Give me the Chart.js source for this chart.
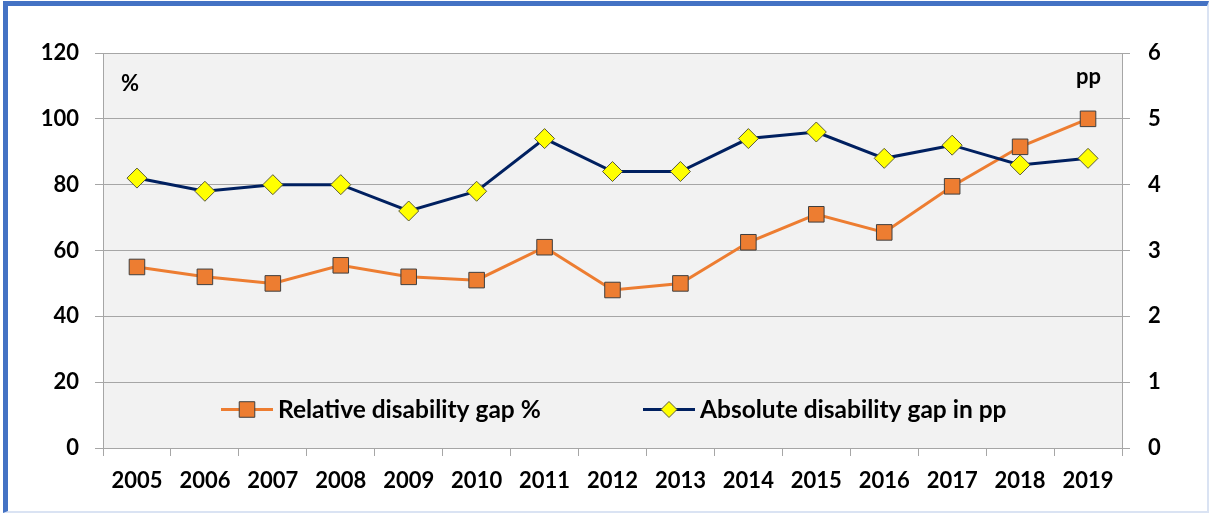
<!DOCTYPE html>
<html><head><meta charset="utf-8">
<script src="https://cdn.jsdelivr.net/npm/chart.js@4/dist/chart.umd.min.js"></script>
<style>
html,body{margin:0;padding:0;background:#fff;}
#wrap{position:relative;width:1210px;height:514px;overflow:hidden;background:#fff;}
#frame{position:absolute;left:3px;top:1px;width:1206px;height:512px;border-left:5px solid #4472c4;border-top:5px solid #4472c4;border-right:2px solid #dae3f3;border-bottom:2px solid #dae3f3;box-sizing:border-box;pointer-events:none;}
canvas{position:absolute;left:0;top:0;}
</style></head>
<body>
<div id="wrap"><canvas id="c" width="1210" height="514"></canvas><div id="frame"></div></div>
<script>
const years = ['2005','2006','2007','2008','2009','2010','2011','2012','2013','2014','2015','2016','2017','2018','2019'];
const relativeGap = [55, 52, 50, 55.5, 52, 51, 61, 48, 50, 62.5, 71, 65.5, 79.5, 91.5, 100];
const absoluteGap = [4.1, 3.9, 4.0, 4.0, 3.6, 3.9, 4.7, 4.2, 4.2, 4.7, 4.8, 4.4, 4.6, 4.3, 4.4];
const seriesNames = ['Relative disability gap %', 'Absolute disability gap in pp'];
const leftUnit = '%';
const rightUnit = 'pp';

const FONT = 'Lato, "Open Sans", sans-serif';
const ORANGE = '#ed7d31';
const NAVY = '#002060';
const GRID = '#a6a6a6';

const bgPlugin = {
  id: 'bg',
  beforeDraw(chart) {
    const a = chart.chartArea, ctx = chart.ctx;
    ctx.save();
    ctx.fillStyle = '#f2f2f2';
    ctx.fillRect(a.left, a.top, a.right - a.left, a.bottom - a.top);
    ctx.restore();
  }
};

const annotPlugin = {
  id: 'annot',
  afterDraw(chart) {
    const ctx = chart.ctx, a = chart.chartArea;
    ctx.save();
    ctx.fillStyle = '#000';
    ctx.font = 'bold 22px ' + FONT;
    ctx.textBaseline = 'middle';
    ctx.textAlign = 'left';
    ctx.fillText(leftUnit, a.left + 18, 84);
    ctx.textAlign = 'right';
    ctx.fillText(rightUnit, a.right - 21, 77);
    // legend
    const ly = 409.5;
    const items = [
      {x: 221, color: ORANGE, style: 'rect', fill: ORANGE, border: '#3f3f3f', text: seriesNames[0]},
      {x: 643, color: NAVY, style: 'rectRot', fill: '#ffff00', border: '#5a5a3a', text: seriesNames[1]}
    ];
    items.forEach(it => {
      ctx.strokeStyle = it.color;
      ctx.lineWidth = 3;
      ctx.beginPath();
      ctx.moveTo(it.x, ly); ctx.lineTo(it.x + 52, ly); ctx.stroke();
      ctx.fillStyle = it.fill;
      ctx.strokeStyle = it.border;
      ctx.lineWidth = 1;
      Chart.helpers.drawPoint(ctx, {pointStyle: it.style, radius: it.style === 'rect' ? 11 : 8, borderWidth: 1}, it.x + 26, ly);
      ctx.fillStyle = '#000';
      ctx.textAlign = 'left';
      ctx.font = 'bold 24.5px ' + FONT;
      ctx.fillText(it.text, it.x + 57, ly + 1);
    });
    ctx.restore();
  }
};

const tickFont = {family: FONT, weight: 'bold', size: 22};

new Chart(document.getElementById('c'), {
  type: 'line',
  data: {
    labels: years,
    datasets: [
      {
        label: seriesNames[0], data: relativeGap, yAxisID: 'y',
        borderColor: ORANGE, borderWidth: 3, backgroundColor: ORANGE,
        pointStyle: 'rect', pointRadius: 11, pointHoverRadius: 11,
        pointBackgroundColor: ORANGE, pointBorderColor: '#3f3f3f', pointBorderWidth: 1,
        tension: 0, order: 2
      },
      {
        label: seriesNames[1], data: absoluteGap, yAxisID: 'y1',
        borderColor: NAVY, borderWidth: 3, backgroundColor: '#ffff00',
        pointStyle: 'rectRot', pointRadius: 10, pointHoverRadius: 10,
        pointBackgroundColor: '#ffff00', pointBorderColor: '#5a5a3a', pointBorderWidth: 1,
        tension: 0, order: 1
      }
    ]
  },
  options: {
    responsive: false,
    animation: false,
    devicePixelRatio: 1,
    layout: {padding: {top: 53, left: 0, right: 0, bottom: 0}},
    plugins: {legend: {display: false}, tooltip: {enabled: false}},
    scales: {
      x: {
        offset: true,
        grid: {offset: true, drawOnChartArea: false, drawTicks: true, tickLength: 8, color: GRID},
        border: {display: true, color: GRID},
        ticks: {font: tickFont, color: '#000', padding: 12, maxRotation: 0, autoSkip: false},
        afterFit(s) { s.height = 66; }
      },
      y: {
        position: 'left', min: 0, max: 120,
        ticks: {stepSize: 20, font: tickFont, color: '#000', padding: 16},
        grid: {color: GRID, tickLength: 8, drawTicks: true},
        border: {display: true, color: GRID},
        afterFit(s) { s.width = 103; }
      },
      y1: {
        position: 'right', min: 0, max: 6,
        ticks: {stepSize: 1, font: tickFont, color: '#000', padding: 18},
        grid: {drawOnChartArea: false, tickLength: 8, drawTicks: true, color: GRID},
        border: {display: true, color: GRID},
        afterFit(s) { s.width = 88; }
      }
    }
  },
  plugins: [bgPlugin, annotPlugin]
});
</script>
</body></html>
